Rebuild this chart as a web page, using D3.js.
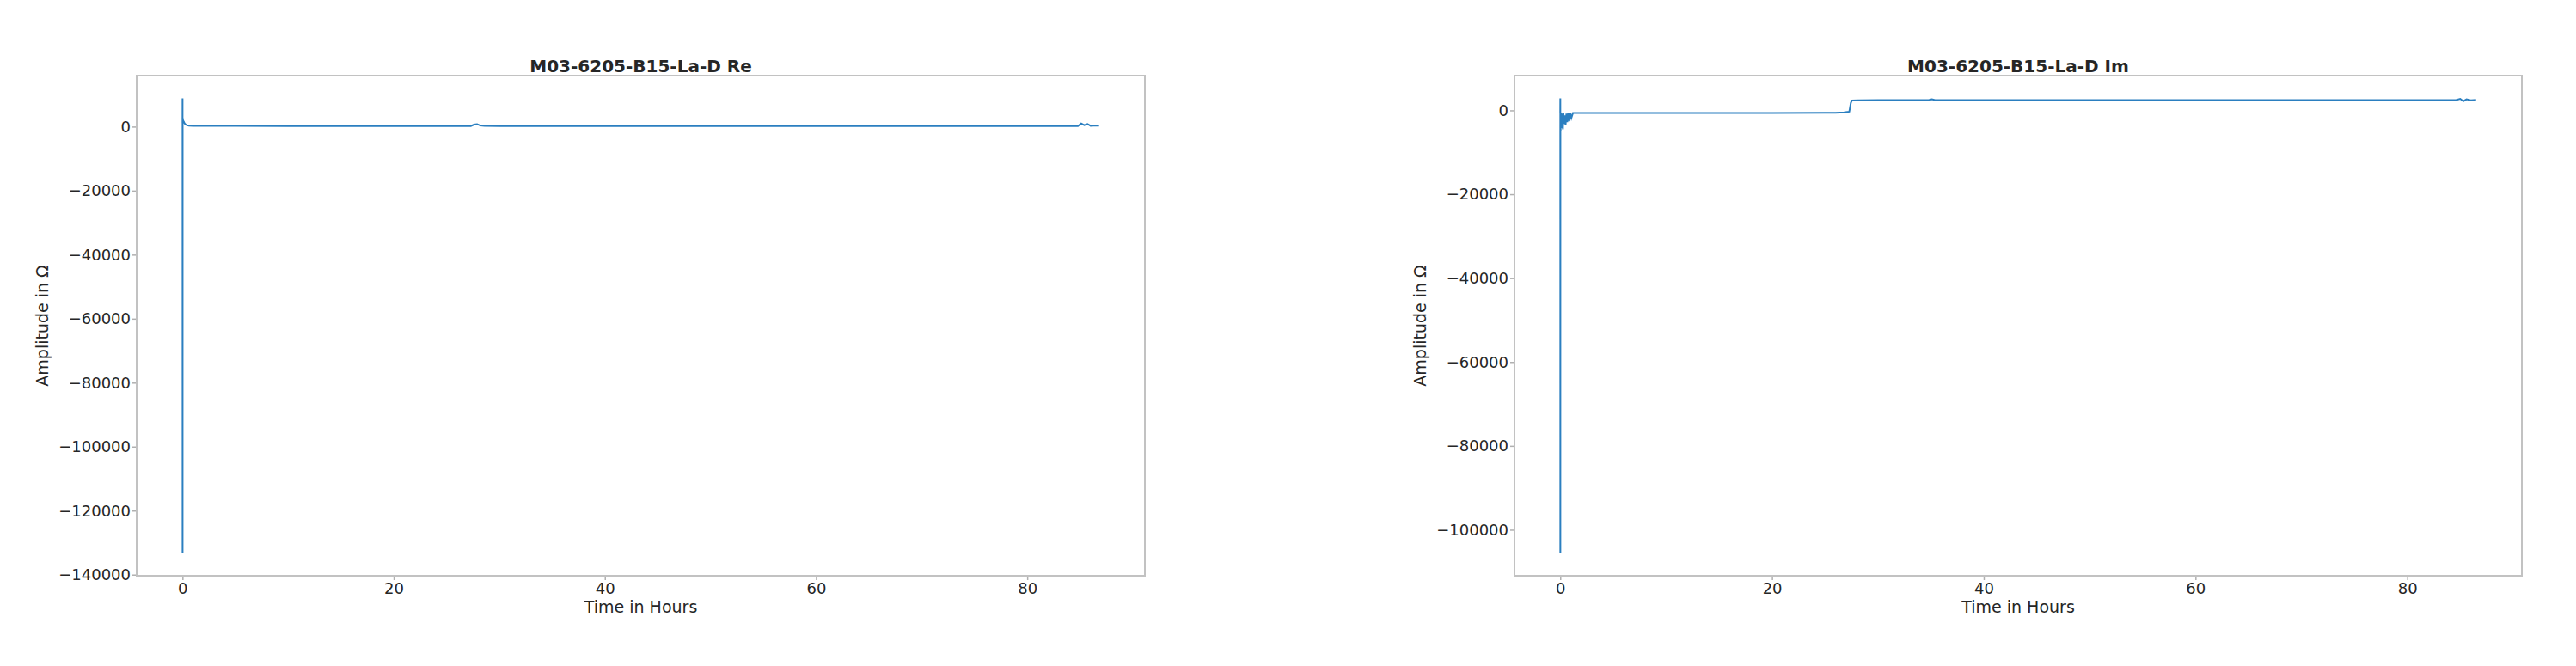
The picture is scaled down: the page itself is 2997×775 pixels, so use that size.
<!DOCTYPE html>
<html>
<head>
<meta charset="utf-8">
<script src="https://cdn.jsdelivr.net/npm/d3@7"></script>
<style>
body { margin: 0; background: #fff; }
text { font-family: "DejaVu Sans", sans-serif; fill: #262626; }
</style>
</head>
<body>
<svg id="chart"></svg>
<script>
// real part, hours vs ohm
const reTime = [0, 0.004, 0.008, 0.012, 0.05, 0.12, 0.2, 0.3, 0.45, 0.6, 1, 5, 10, 15, 20, 25, 27.3, 27.6, 27.9, 28.2, 28.6, 30, 40, 50, 60, 70, 80, 84.8, 85.1, 85.4, 85.7, 86, 86.4, 86.8];
const reValue = [1200, 8850, -133240, 2600, 2000, 1500, 1000, 650, 400, 300, 250, 220, 210, 200, 200, 200, 200, 650, 800, 350, 220, 210, 200, 200, 190, 190, 190, 200, 1000, 450, 850, 250, 350, 300];

// imaginary part
const imTime = [0, 0.004, 0.008, 0.012, 0.03, 0.06, 0.09, 0.12, 0.16, 0.2, 0.25, 0.3, 0.36, 0.42, 0.5, 0.58, 0.66, 0.75, 0.85, 0.95, 1.05, 1.2, 5, 10, 15, 20, 25, 26, 26.8, 27.3, 27.45, 27.55, 28.1, 30, 34.8, 35.1, 35.4, 40, 50, 60, 70, 80, 84.6, 85, 85.3, 85.6, 86, 86.5];
const imValue = [-500, 2870, -105550, -1500, -4800, -900, -4200, -600, -3800, -1000, -4500, -700, -3200, -1200, -3600, -800, -2800, -600, -2600, -700, -1800, -620, -620, -620, -600, -600, -580, -560, -450, -300, 1800, 2350, 2420, 2440, 2440, 2650, 2440, 2450, 2450, 2460, 2460, 2460, 2460, 2750, 2200, 2650, 2400, 2500];

const xTicks = [0, 20, 40, 60, 80];
const reYTicks = [0, -20000, -40000, -60000, -80000, -100000, -120000, -140000];
const imYTicks = [0, -20000, -40000, -60000, -80000, -100000];
const titles = ["M03-6205-B15-La-D Re", "M03-6205-B15-La-D Im"];

let width = 2997;
let height = 775;
let svg = d3.select("#chart")
    .attr("width", width)
    .attr("height", height);

function pad(ext) {
    let m = (ext[1] - ext[0]) * 0.05;
    return [ext[0] - m, ext[1] + m];
}

function drawPanel(times, values, yTicks, title, left, right, id) {
    let top = 88, bottom = 670;
    let pts = times.map((t, i) => [t, values[i]]);

    let x = d3.scaleLinear().domain(pad(d3.extent(times))).range([left, right]);
    let y = d3.scaleLinear().domain(pad(d3.extent(values))).range([bottom, top]);

    svg.append("clipPath").attr("id", id)
        .append("rect")
        .attr("x", left).attr("y", top)
        .attr("width", right - left).attr("height", bottom - top);

    svg.append("path")
        .datum(pts)
        .attr("clip-path", "url(#" + id + ")")
        .attr("fill", "none")
        .attr("stroke", "#2b7fc0")
        .attr("stroke-width", 2)
        .attr("d", d3.line().x(d => x(d[0])).y(d => y(d[1])));

    let xAxis = svg.append("g")
        .attr("transform", "translate(0," + bottom + ")")
        .call(d3.axisBottom(x).tickValues(xTicks).tickSize(5).tickPadding(3).tickFormat(d3.format("d")));
    let yAxis = svg.append("g")
        .attr("transform", "translate(" + left + ",0)")
        .call(d3.axisLeft(y).tickValues(yTicks).tickSize(5).tickPadding(2).tickFormat(d3.format("d")));

    [xAxis, yAxis].forEach(a => {
        a.select(".domain").remove();
        a.selectAll(".tick line").attr("stroke", "#b0b0b0").attr("stroke-width", 1.5);
        a.selectAll(".tick text").style("font-size", "18px").attr("fill", "#262626");
    });

    svg.append("rect")
        .attr("x", left).attr("y", top)
        .attr("width", right - left).attr("height", bottom - top)
        .attr("fill", "none")
        .attr("stroke", "#c2c2c2")
        .attr("stroke-width", 2);

    svg.append("text")
        .attr("x", (left + right) / 2)
        .attr("y", 84)
        .attr("text-anchor", "middle")
        .style("font-size", "20px")
        .style("font-weight", "bold")
        .attr("fill", "#111")
        .text(title);

    svg.append("text")
        .attr("x", (left + right) / 2)
        .attr("y", 713)
        .attr("text-anchor", "middle")
        .style("font-size", "19px")
        .text("Time in Hours");

    svg.append("text")
        .attr("transform", "translate(" + (left - 103) + "," + ((top + bottom) / 2) + ") rotate(-90)")
        .attr("text-anchor", "middle")
        .style("font-size", "19px")
        .text("Amplitude in Ω");
}

drawPanel(reTime, reValue, reYTicks, titles[0], 159, 1332, "clipRe");
drawPanel(imTime, imValue, imYTicks, titles[1], 1762, 2934, "clipIm");
</script>
</body>
</html>
